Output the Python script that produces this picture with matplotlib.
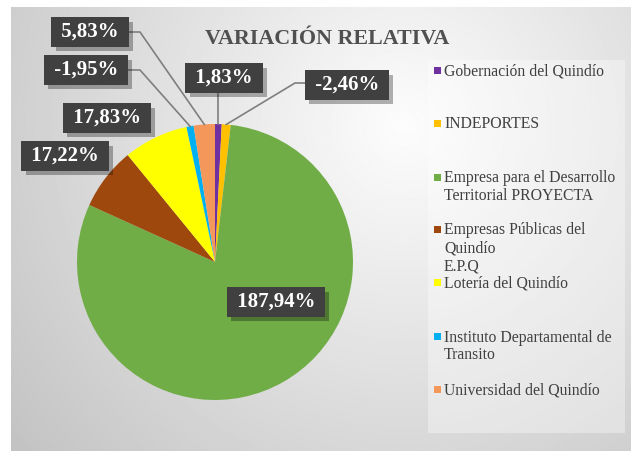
import numpy as np
import matplotlib
matplotlib.use("Agg")
import matplotlib.pyplot as plt
import matplotlib.patheffects as pe
from matplotlib.patches import Rectangle

# data
entidades = ["Gobernación del Quindío", "INDEPORTES",
             "Empresa para el Desarrollo\nTerritorial PROYECTA",
             "Empresas Públicas del\nQuindío\nE.P.Q",
             "Lotería del Quindío",
             "Instituto Departamental de\nTransito",
             "Universidad del Quindío"]
variacion = [1.83, -2.46, 187.94, 17.22, 17.83, -1.95, 5.83]
colores = ["#7030A0", "#FFC000", "#70AD47", "#9E480E", "#FFFF00", "#00B0F0", "#F4975B"]

serif = "Liberation Serif"
W, H = 631, 451
fig = plt.figure(figsize=(W / 100, H / 100), dpi=100)
fig.patch.set_facecolor("white")

# background (pixel coords, y down)
bg = fig.add_axes([0, 0, 1, 1])
bg.set_xlim(0, W); bg.set_ylim(H, 0); bg.axis("off")
Y, X = np.mgrid[0:H, 0:W]
d = np.sqrt((X - 400.0) ** 2 + (Y - 120.0) ** 2)
grad = np.clip(0.99 - 0.22 * d / 500.0, 0, 1)
bg.imshow(grad, cmap="gray", vmin=0, vmax=1, extent=(11, W, H, 7), aspect="auto", zorder=0)
bg.add_patch(Rectangle((428, 60), 197, 373, facecolor="white", alpha=0.35, edgecolor="none", zorder=1))

bg.text(327, 39, "VARIACIÓN RELATIVA", ha="center", va="center", fontsize=15.8,
        fontweight="bold", color="#505050", family=serif, zorder=3)

# pie
cx, cy, r = 215, 262, 138
ax = fig.add_axes([(cx - r) / W, (H - cy - r) / H, 2 * r / W, 2 * r / H])
wedges, _ = ax.pie(np.abs(variacion), colors=colores, startangle=90, counterclock=False,
                   radius=1, wedgeprops=dict(linewidth=0))
ax.set_xlim(-1, 1); ax.set_ylim(-1, 1); ax.axis("off")

# overlay for labels
fg = fig.add_axes([0, 0, 1, 1])
fg.set_xlim(0, W); fg.set_ylim(H, 0); fg.axis("off")
fg.patch.set_alpha(0)


def borde(w):
    t = np.deg2rad((w.theta1 + w.theta2) / 2)
    return cx + r * np.cos(t), cy - r * np.sin(t)


# leader lines
lc = dict(color="#7f7f7f", lw=1.2, zorder=4)
ex, ey = borde(wedges[0])
fg.plot([ex, ex], [94, ey], **lc)
ex, ey = borde(wedges[1])
fg.plot([306, 295, ex], [83, 83, ey], **lc)
ex, ey = borde(wedges[5])
fg.plot([128, 140, ex], [70, 70, ey], **lc)
ex, ey = borde(wedges[6])
fg.plot([128, 140, ex], [32, 32, ey], **lc)

# label boxes
pos = [(224, 78), (347, 85), (276, 302), (65, 156), (107, 118), (86, 70), (90, 32)]
for v, (x, y) in zip(variacion, pos):
    s = " " + f"{v:.2f}".replace(".", ",") + "% "
    t = fg.text(x, y, s, ha="center", va="center", fontsize=15, fontweight="bold",
                color="white", family=serif, zorder=6,
                bbox=dict(boxstyle="square,pad=0.22", fc="#404040", ec="none"))
    t.get_bbox_patch().set_path_effects([
        pe.SimplePatchShadow(offset=(3, -3), shadow_rgbFace="black", alpha=0.3), pe.Normal()])

# legend
ly = [70, 123, 177, 229, 282, 336, 389]
for nombre, c, y in zip(entidades, colores, ly):
    bg.add_patch(Rectangle((434, y - 3.5), 7, 7, facecolor=c, edgecolor="none", zorder=3))
    bg.text(444, y - 6.5, nombre, ha="left", va="top", fontsize=11.3, color="#404040",
            family=serif, linespacing=1.15, zorder=3)

fig.savefig("out.png", dpi=100)
